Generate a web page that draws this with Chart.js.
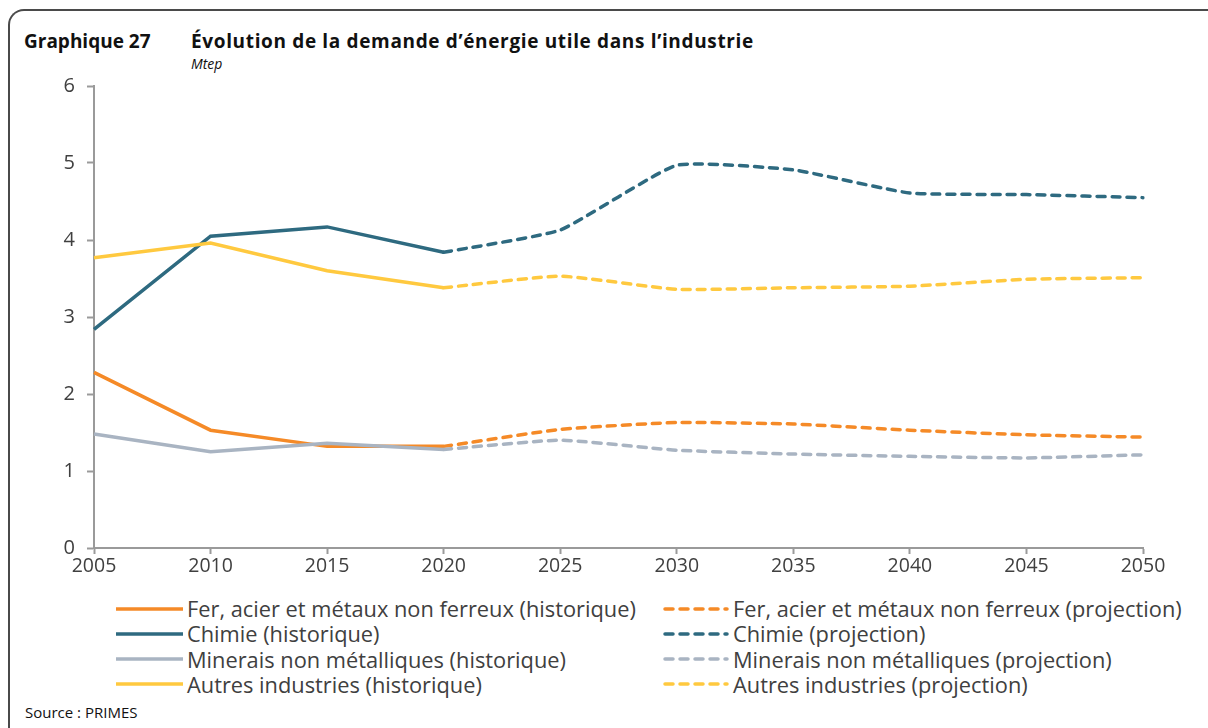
<!DOCTYPE html>
<html lang="fr">
<head>
<meta charset="utf-8">
<title>Graphique 27</title>
<script src="https://cdn.jsdelivr.net/npm/chart.js@4.4.1/dist/chart.umd.min.js"></script>
<style>
  html, body { margin: 0; padding: 0; background: #fff; }
  body { width: 1208px; height: 728px; position: relative; overflow: hidden; font-family: 'Open Sans', sans-serif; color: #404040; }
  .frame { position: absolute; left: 8px; top: 9px; width: 1220px; height: 740px; border-top: 2px solid #4a4a4a; border-left: 2px solid #4a4a4a; border-top-left-radius: 16px; }
  .num { position: absolute; left: 24px; top: 28px; font-weight: bold; font-size: 19px; color: #111; }
  .title { position: absolute; left: 191px; top: 28px; font-weight: bold; font-size: 19px; letter-spacing: 0.65px; color: #111; }
  .unit { position: absolute; left: 191px; top: 54px; font-style: italic; font-size: 14px; color: #111; }
  .wrap { position: absolute; left: 0; top: 62px; width: 1208px; height: 516px; }
  .legend { position: absolute; left: 0; top: 596px; width: 1208px; }
  .item { position: absolute; height: 25px; display: flex; align-items: center; font-size: 21.8px; color: #404040; white-space: nowrap; }
  .item svg { margin-right: 4px; flex: none; }
  .source { position: absolute; left: 25px; top: 702px; font-size: 15px; color: #111; }
</style>
</head>
<body>
<div class="frame"></div>
<div class="num">Graphique 27</div>
<div class="title">Évolution de la demande d’énergie utile dans l’industrie</div>
<div class="unit">Mtep</div>
<div class="wrap"><canvas id="chart"></canvas></div>
<div class="legend" id="legend"></div>
<div class="source">Source : PRIMES</div>
<script>
const years = ['2005', '2010', '2015', '2020', '2025', '2030', '2035', '2040', '2045', '2050'];

// historique : 2005-2020, projection : 2020-2050
const ferHist = [2.28, 1.53, 1.32, 1.32];
const ferProj = [1.32, 1.54, 1.63, 1.61, 1.53, 1.47, 1.44];
const chimieHist = [2.84, 4.05, 4.17, 3.84];
const chimieProj = [3.84, 4.13, 4.97, 4.91, 4.61, 4.59, 4.55];
const mineraisHist = [1.48, 1.25, 1.36, 1.28];
const mineraisProj = [1.28, 1.40, 1.27, 1.22, 1.19, 1.17, 1.21];
const autresHist = [3.77, 3.96, 3.60, 3.38];
const autresProj = [3.38, 3.53, 3.36, 3.38, 3.40, 3.49, 3.51];

const sectors = ['Fer, acier et métaux non ferreux', 'Chimie', 'Minerais non métalliques', 'Autres industries'];
const colors = ['#f58a27', '#2e6a80', '#a9b4c2', '#ffc93f'];
const hist = [ferHist, chimieHist, mineraisHist, autresHist];
const proj = [ferProj, chimieProj, mineraisProj, autresProj];

const pad = (arr, before, after) => Array(before).fill(null).concat(arr, Array(after).fill(null));

const datasets = [];
sectors.forEach((name, i) => {
  datasets.push({
    label: name + ' (historique)',
    data: pad(hist[i], 0, years.length - hist[i].length),
    borderColor: colors[i],
    borderWidth: 3.5,
    pointRadius: 0,
    tension: 0,
    order: 10 - i
  });
});
sectors.forEach((name, i) => {
  datasets.push({
    label: name + ' (projection)',
    data: pad(proj[i], years.length - proj[i].length, 0),
    borderColor: colors[i],
    borderWidth: 3.5,
    borderDash: [8, 7],
    borderCapStyle: 'round',
    pointRadius: 0,
    tension: 0.15,
    order: 10 - i
  });
});

const axisGrey = '#9a9a9a';

new Chart(document.getElementById('chart'), {
  type: 'line',
  data: { labels: years, datasets: datasets },
  options: {
    responsive: true,
    maintainAspectRatio: false,
    animation: false,
    spanGaps: false,
    layout: { padding: { left: 44, right: 65, top: 16, bottom: 0 } },
    plugins: { legend: { display: false }, tooltip: { enabled: false } },
    scales: {
      x: {
        grid: { drawOnChartArea: false, drawTicks: true, tickLength: 6, tickColor: axisGrey, tickWidth: 2 },
        border: { display: true, color: axisGrey, width: 2 },
        ticks: { color: '#404040', font: { family: 'Open Sans', size: 19.5 }, padding: 1, maxRotation: 0, autoSkip: false },
        afterFit: (scale) => { scale.height = 30; }
      },
      y: {
        min: 0,
        max: 6,
        grid: { drawOnChartArea: false, drawTicks: true, tickLength: 7, tickColor: axisGrey, tickWidth: 2 },
        border: { display: true, color: axisGrey, width: 2 },
        ticks: { stepSize: 1, color: '#404040', font: { family: 'Open Sans', size: 20 }, padding: 12 },
        afterFit: (scale) => { scale.width = 50; }
      }
    }
  }
});

// légende en deux colonnes : historique à gauche, projection à droite
const legend = document.getElementById('legend');
datasets.forEach((ds, k) => {
  const col = k < 4 ? 0 : 1;
  const row = k % 4;
  const item = document.createElement('div');
  item.className = 'item';
  item.style.left = (col === 0 ? 116 : 663) + 'px';
  item.style.top = (row * 25.3) + 'px';
  const w = col === 0 ? 67 : 66;
  const dash = ds.borderDash ? 'stroke-dasharray="8 7" stroke-linecap="round"' : '';
  item.innerHTML = '<svg width="' + w + '" height="8"><line x1="' + (ds.borderDash ? 2 : 0) + '" y1="4" x2="' + (ds.borderDash ? w - 2 : w) + '" y2="4" stroke="' + ds.borderColor + '" stroke-width="3.5" ' + dash + '/></svg><span>' + ds.label + '</span>';
  legend.appendChild(item);
});
</script>
</body>
</html>
